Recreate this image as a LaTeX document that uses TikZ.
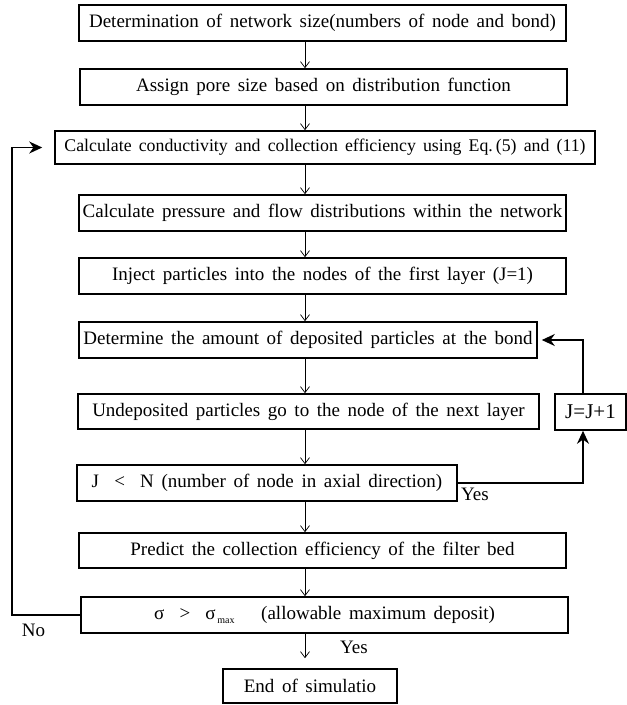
\documentclass[tikz,border=0pt]{standalone}
\usepackage{fontspec}
\setmainfont{Liberation Serif}[WordSpace=1.6]
\usetikzlibrary{arrows.meta}
\begin{document}
\begin{tikzpicture}[x=1pt, y=-1pt,
  procbox/.style={draw=black, line width=1.6pt, inner sep=0pt, font=\fontsize{19}{22}\selectfont},
  flowarrow/.style={-{Straight Barb[length=6pt, width=9pt]}, line width=0.7pt},
  looparrow/.style={-{Stealth[length=13pt, width=12pt]}, line width=1.4pt},
  tag/.style={font=\fontsize{19}{22}\selectfont, inner sep=0pt}]
\useasboundingbox (0,0) rectangle (627,705);
\coordinate (col) at (305,0);
\coordinate (noturn) at (12,615);
\coordinate (yescol) at (583,0);
\node[procbox, minimum width=487, minimum height=36] (b1) at (322.5,23) {Determination of network size(numbers of node and bond)};
\node[procbox, minimum width=487, minimum height=36] (b2) at (323.5,87) {Assign pore size based on distribution function};
\node[procbox, minimum width=540, minimum height=33, font=\fontsize{17.8}{21}\selectfont] (b3) at (325,147.5) {Calculate conductivity and collection efficiency using Eq.\,(5) and (11)};
\node[procbox, minimum width=487, minimum height=36] (b4) at (322.5,213) {Calculate pressure and flow distributions within the network};
\node[procbox, minimum width=487, minimum height=36] (b5) at (322.5,276) {Inject particles into the nodes of the first layer (J=1)};
\node[procbox, minimum width=458, minimum height=36] (b6) at (308,340) {Determine the amount of deposited particles at the bond};
\node[procbox, minimum width=461, minimum height=35] (b7) at (308.5,411.5) {Undeposited particles go to the node of the next layer};
\node[procbox, minimum width=380, minimum height=36] (b8) at (267,483) {J\ \ <\ \ N (number of node in axial direction)};
\node[procbox, minimum width=487, minimum height=35] (b9) at (322.5,550.5) {Predict the collection efficiency of the filter bed};
\node[procbox, minimum width=487, minimum height=36] (b10) at (324.5,615) {σ\ \ >\ \ σ\raisebox{-0.4ex}{\fontsize{10}{10}\selectfont\,max}\quad\ (allowable maximum deposit)};
\node[procbox, minimum width=71, minimum height=36, font=\fontsize{21}{24}\selectfont] (jinc) at (590.5,412) {J=J+1};
\node[procbox, minimum width=174, minimum height=34] (fin) at (310,686) {End of simulatio};
\node[tag] (yes1) at (475,494) {Yes};
\node[tag] (no) at (33.5,630) {No};
\node[tag] (yes2) at (354,647) {Yes};
\draw[flowarrow] (b1.south -| col) -- (b2.north -| col);
\draw[flowarrow] (b2.south -| col) -- (b3.north -| col);
\draw[flowarrow] (b3.south -| col) -- (b4.north -| col);
\draw[flowarrow] (b4.south -| col) -- (b5.north -| col);
\draw[flowarrow] (b5.south -| col) -- (b6.north -| col);
\draw[flowarrow] (b6.south -| col) -- (b7.north -| col);
\draw[flowarrow] (b7.south -| col) -- (b8.north -| col);
\draw[flowarrow] (b8.south -| col) -- (b9.north -| col);
\draw[flowarrow] (b9.south -| col) -- (b10.north -| col);
\draw[flowarrow, shorten >=10pt] (b10.south -| col) -- (fin.north -| col);
\draw[looparrow, shorten >=12pt] (b10.west) -| (noturn) |- (b3.west);
\draw[looparrow] (b8.east) -| (yescol |- jinc.south);
\draw[looparrow, shorten >=4pt] (jinc.north -| yescol) |- (b6.east);
\end{tikzpicture}
\end{document}
